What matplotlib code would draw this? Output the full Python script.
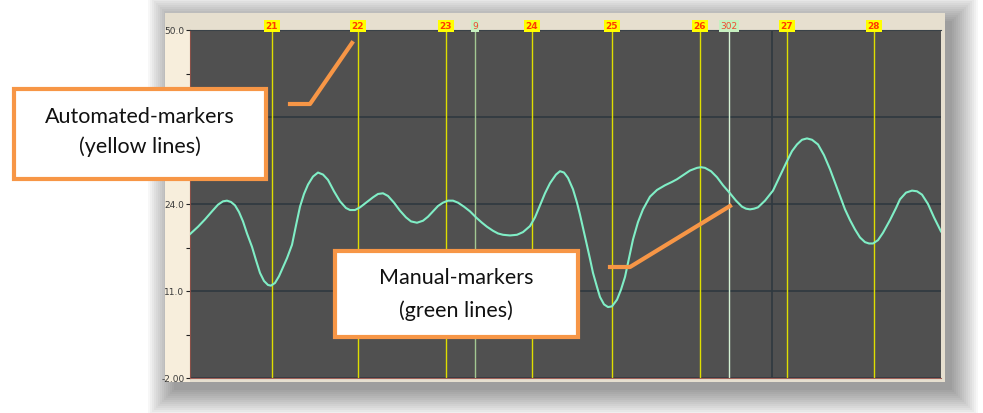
import matplotlib.pyplot as plt
from matplotlib.patches import Rectangle
from matplotlib.lines import Line2D

W, H = 983, 414

# signal trace (x in samples, y in chart units)
trace_x = [0, 8, 15, 22, 28, 33, 37, 41, 45, 49, 53, 57, 62, 66, 70, 74, 78, 81, 85, 89,
           92, 97, 102, 106, 110, 114, 118, 123, 128, 133, 138, 144, 150, 156, 160, 165, 170, 177, 183, 188,
           193, 198, 204, 210, 216, 221, 227, 233, 238, 243, 248, 253, 258, 263, 268, 274, 280, 286, 292, 297,
           303, 308, 313, 320, 327, 333, 340, 345, 350, 355, 360, 366, 370, 374, 378, 383, 387, 390, 394, 397,
           400, 403, 407, 410, 414, 418, 422, 427, 431, 435, 439, 443, 448, 453, 460, 467, 475, 482, 487, 493,
           500, 507, 511, 515, 521, 527, 533, 540, 546, 552, 556, 560, 564, 568, 575, 583, 590, 597, 602, 607,
           612, 617, 622, 628, 634, 640, 648, 655, 660, 665, 670, 675, 679, 683, 688, 693, 700, 706, 710, 716,
           722, 727, 732, 738, 744, 751]
trace_y = [19.5, 20.6, 21.7, 22.9, 23.9, 24.4, 24.5, 24.3, 23.8, 22.8, 21.4, 19.6, 17.6, 15.6, 13.7, 12.5, 11.9, 11.8, 12.2, 13.2,
           14.2, 15.9, 17.9, 20.8, 23.6, 25.5, 26.9, 28.1, 28.7, 28.4, 27.6, 25.9, 24.4, 23.4, 23.1, 23.1, 23.5, 24.3, 25.0, 25.5,
           25.6, 25.2, 24.2, 23.0, 22.0, 21.4, 21.2, 21.5, 22.1, 22.9, 23.7, 24.2, 24.5, 24.5, 24.2, 23.6, 22.9, 22.0, 21.2, 20.6,
           20.0, 19.6, 19.4, 19.3, 19.4, 19.8, 20.7, 22.0, 23.8, 25.6, 27.1, 28.4, 28.9, 28.7, 27.9, 26.2, 24.2, 22.4, 19.8, 17.8,
           15.8, 13.7, 11.6, 10.1, 9.0, 8.6, 8.7, 9.7, 11.2, 13.1, 15.9, 18.7, 21.3, 23.2, 25.1, 26.1, 26.8, 27.3, 27.7, 28.3,
           29.0, 29.4, 29.5, 29.4, 28.9, 28.0, 26.8, 25.6, 24.5, 23.6, 23.3, 23.2, 23.3, 23.5, 24.5, 26.0, 28.2, 30.4, 31.9, 32.9,
           33.6, 33.8, 33.6, 32.9, 31.3, 29.2, 26.0, 23.2, 21.6, 20.2, 19.0, 18.3, 18.1, 18.1, 18.6, 19.7, 21.6, 23.4, 24.7, 25.7,
           26.0, 25.9, 25.4, 24.0, 22.0, 19.9]

auto_pos = [82, 168, 256, 342, 422, 510, 597, 684]
auto_ids = ['21', '22', '23', '24', '25', '26', '27', '28']
manual_pos = [285, 539]
manual_ids = ['9', '302']
manual_colors = ['#a3c892', '#d4f2d4']

y_ticks = [-2, 11, 24, 37, 50]
y_labels = ['-2.00', '11.0', '24.0', '', '50.0']  # 37.0 sits under the callout
y_minor = [4.5, 17.5, 30.5, 43.5]


def fx(px):
    return px / W


def fy(py):
    return 1 - py / H


def frect(x0, y0, x1, y1, **kw):
    r = Rectangle((fx(x0), fy(y1)), fx(x1) - fx(x0), fy(y0) - fy(y1),
                  transform=fig.transFigure, **kw)
    fig.add_artist(r)
    return r


fig = plt.figure(figsize=(W / 100, H / 100), dpi=100)
fig.patch.set_facecolor('white')

# soft drop shadow behind the panel
for k in range(14):
    s = k * 2
    frect(174 - s, 22 - s, 952 + s, 391 + s, fc='black', ec='none', alpha=0.032, zorder=0)

# beige window panel
frect(165, 14, 945, 383, fc='#e6dfcf', ec='none', zorder=1)
frect(165, 31, 190, 383, fc='#f7eedc', ec='none', zorder=1)

ax = fig.add_axes([fx(190), fy(379), fx(941) - fx(190), (379 - 31) / H], zorder=2)
ax.set_facecolor('#505050')
ax.set_xlim(0, 751)
ax.set_ylim(-2, 50)

for v in y_ticks:
    ax.axhline(v, color='#2f3940', lw=1.2, zorder=1)
ax.axvline(582, color='#2f3940', lw=1.2, zorder=1)

for x in auto_pos:
    ax.axvline(x, color='#dede00', lw=1, zorder=2)
for x, c in zip(manual_pos, manual_colors):
    ax.axvline(x, color=c, lw=1, zorder=2)

ax.plot(trace_x, trace_y, color='#80eec6', lw=1.5, zorder=3)

for x, lab in zip(auto_pos, auto_ids):
    ax.annotate(lab, xy=(x, 50), xytext=(0, 3), textcoords='offset points',
                ha='center', va='center', fontsize=6.5, fontweight='bold', color='#ff3a00',
                bbox=dict(boxstyle='square,pad=0.15', fc='#ffff00', ec='none'),
                annotation_clip=False, zorder=5)
for x, lab in zip(manual_pos, manual_ids):
    ax.annotate(lab, xy=(x, 50), xytext=(0, 3), textcoords='offset points',
                ha='center', va='center', fontsize=6.5, color='#f04a30',
                bbox=dict(boxstyle='square,pad=0.15', fc='#c6f0c0', ec='none'),
                annotation_clip=False, zorder=5)

ax.set_xticks([])
ax.set_yticks(y_ticks, y_labels)
ax.set_yticks(y_minor, minor=True)
ax.tick_params(axis='y', which='both', length=3, width=0.8, color='#202020',
               labelsize=6.5, labelcolor='#3a3a3a', pad=1)
ax.spines['right'].set_visible(False)
ax.spines['top'].set_color('#3a4248')
ax.spines['left'].set_color('#8a5048')
ax.spines['bottom'].set_color('#a06058')

# callout boxes
orange = '#f79646'
frect(14, 90, 266, 180, fc='white', ec=orange, lw=3, zorder=10)
fig.text(fx(140), fy(117), 'Automated-markers', ha='center', va='center',
         family='Lato', fontsize=15.5, color='#111111', zorder=11)
fig.text(fx(140), fy(147), '(yellow lines)', ha='center', va='center',
         family='Lato', fontsize=15.5, color='#111111', zorder=11)
fig.add_artist(Line2D([fx(290), fx(310), fx(352)], [fy(105), fy(105), fy(44)],
                      transform=fig.transFigure, color=orange, lw=3, zorder=10))

frect(335, 252, 578, 338, fc='white', ec=orange, lw=3, zorder=10)
fig.text(fx(456), fy(278), 'Manual-markers', ha='center', va='center',
         family='Lato', fontsize=15.5, color='#111111', zorder=11)
fig.text(fx(456), fy(311), '(green lines)', ha='center', va='center',
         family='Lato', fontsize=15.5, color='#111111', zorder=11)
fig.add_artist(Line2D([fx(610), fx(630), fx(730)], [fy(268), fy(268), fy(207)],
                      transform=fig.transFigure, color=orange, lw=3, zorder=10))

fig.savefig('out.png', dpi=100)
